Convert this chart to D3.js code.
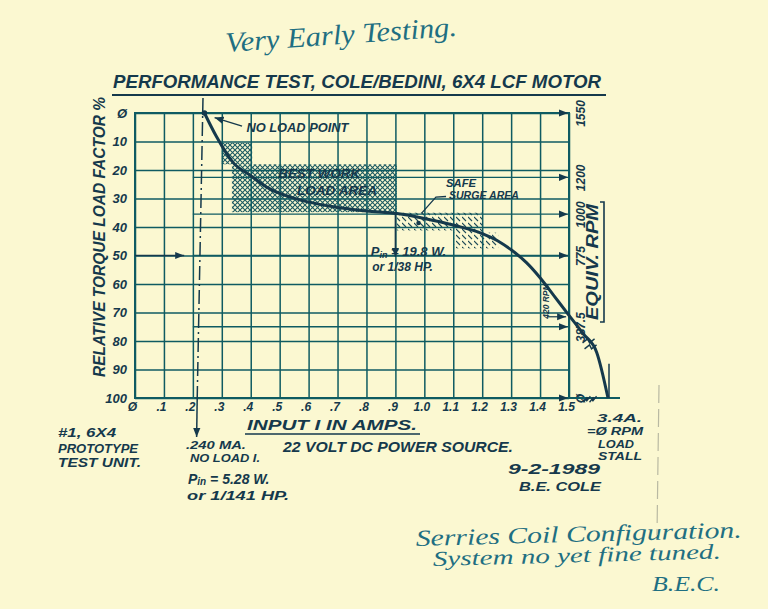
<!DOCTYPE html>
<html>
<head>
<meta charset="utf-8">
<script src="https://cdn.jsdelivr.net/npm/d3@7"></script>
<style>
  html, body { margin: 0; padding: 0; background: #fbf8d1; }
  svg { display: block; }
  text { font-family: "Liberation Sans", Arial, sans-serif; font-style: italic; font-weight: bold; fill: #15394c; }
  text.hand { font-family: "Liberation Serif", serif; font-weight: normal; fill: #1f6f82; }
</style>
</head>
<body>
<svg id="chart" width="768" height="609"></svg>
<script>
// axes
var ampTicks = [0, .1, .2, .3, .4, .5, .6, .7, .8, .9, 1.0, 1.1, 1.2, 1.3, 1.4, 1.5]
var ampLabels = ['Ø', '.1', '.2', '.3', '.4', '.5', '.6', '.7', '.8', '.9', '1.0', '1.1', '1.2', '1.3', '1.4', '1.5']
var loadTicks = [0, 10, 20, 30, 40, 50, 60, 70, 80, 90, 100]
var loadLabels = ['Ø', '10', '20', '30', '40', '50', '60', '70', '80', '90', '100']
var rpmTicks = [1550, 1200, 1000, 775, 387.5, 0]
var rpmLabels = ['1550', '1200', '1000', '775', '387.5', 'Ø']

// motor curve (amps, load %)
var curveAmps = [0.24, 0.28, 0.34, 0.40, 0.455, 0.57, 0.685, 0.80, 0.905, 1.0, 1.1, 1.2, 1.253, 1.3, 1.353, 1.4, 1.447, 1.5]
var curveLoad = [0, 8, 17.5, 22, 26, 30.5, 32.9, 34.4, 35.3, 37, 39.3, 42.3, 44.8, 48, 52.5, 57.8, 64, 71]
// past the axis break, out to stall at 3.4 A
var tailAmps = [1.5, 2.2, 2.85, 3.4]
var tailLoad = [71, 77.5, 84, 100]

// shaded areas: [from, to] amps and [from, to] load
var bestAmps = [[0.30, 0.405], [0.335, 0.905]]
var bestLoad = [[10.5, 18], [18, 34.8]]
var surgeAmps = [[0.905, 1.10], [1.10, 1.20], [1.20, 1.255]]
var surgeLoad = [[35, 41.2], [35, 47.5], [42, 47.5]]

var noLoadAmps = 0.24
var pinAmps = 0.9
var stallAmps = 3.4

var ink = '#15394c'
var gridColor = '#0f5b62'

var svg = d3.select('#chart')
var defs = svg.append('defs')

defs.append('marker')
    .attr('id', 'arrow')
    .attr('viewBox', '-10 -5 10 10')
    .attr('markerWidth', 9)
    .attr('markerHeight', 9)
    .attr('markerUnits', 'userSpaceOnUse')
    .attr('orient', 'auto')
  .append('path')
    .attr('d', 'M-10,-4 L0,0 L-10,4 Z')
    .attr('fill', ink)

var cross = defs.append('pattern')
    .attr('id', 'cross').attr('patternUnits', 'userSpaceOnUse')
    .attr('width', 5).attr('height', 5)
cross.append('path').attr('d', 'M0,0 L5,5 M5,0 L0,5')
    .attr('stroke', '#1d5a62').attr('stroke-width', 1.1)

var hatch = defs.append('pattern')
    .attr('id', 'hatch').attr('patternUnits', 'userSpaceOnUse')
    .attr('width', 6).attr('height', 6)
hatch.append('path').attr('d', 'M0,1 L4,5')
    .attr('stroke', '#1d4a58').attr('stroke-width', 1.1)

var x = d3.scaleLinear().domain([0, 1.5]).range([135, 569])
var xTail = d3.scaleLinear().domain([1.5, 3.4]).range([569, 608])
var y = d3.scaleLinear().domain([0, 100]).range([113, 398])
var rpm = d3.scaleLinear().domain([1550, 0]).range([113, 398])

// handwritten notes
svg.append('text').attr('class', 'hand')
  .attr('transform', 'translate(226,52) rotate(-4)')
  .attr('font-size', 28).attr('textLength', 232).attr('lengthAdjust', 'spacingAndGlyphs')
  .text('Very Early Testing.')

// title
svg.append('text')
  .attr('x', 113).attr('y', 88)
  .attr('font-size', 19).attr('textLength', 488).attr('lengthAdjust', 'spacingAndGlyphs')
  .text('PERFORMANCE TEST, COLE/BEDINI, 6X4 LCF MOTOR')
svg.append('line')
  .attr('x1', 112).attr('x2', 606).attr('y1', 95).attr('y2', 95)
  .attr('stroke', ink).attr('stroke-width', 2.2)

// shaded areas
svg.append('g').selectAll('rect')
  .data(bestAmps)
  .join('rect')
  .attr('x', d => x(d[0]))
  .attr('width', d => x(d[1]) - x(d[0]))
  .attr('y', (d, i) => y(bestLoad[i][0]))
  .attr('height', (d, i) => y(bestLoad[i][1]) - y(bestLoad[i][0]))
  .attr('fill', 'url(#cross)')

svg.append('g').selectAll('rect')
  .data(surgeAmps)
  .join('rect')
  .attr('x', d => x(d[0]))
  .attr('width', d => x(d[1]) - x(d[0]))
  .attr('y', (d, i) => y(surgeLoad[i][0]))
  .attr('height', (d, i) => y(surgeLoad[i][1]) - y(surgeLoad[i][0]))
  .attr('fill', 'url(#hatch)')

// grid
var gridH = y(100) - y(0)
var gridW = x(1.5) - x(0)
var gx = svg.append('g')
  .attr('transform', `translate(0,${y(100)})`)
  .call(d3.axisBottom(x).tickValues(ampTicks).tickSize(-gridH).tickFormat(''))
var gy = svg.append('g')
  .attr('transform', `translate(${x(0)},0)`)
  .call(d3.axisLeft(y).tickValues(loadTicks).tickSize(-gridW).tickFormat(''))
;[gx, gy].forEach(g => {
  g.select('.domain').remove()
  g.selectAll('line').attr('stroke', gridColor).attr('stroke-width', 1.5)
})
svg.append('rect')
  .attr('x', x(0)).attr('y', y(0)).attr('width', gridW).attr('height', gridH)
  .attr('fill', 'none').attr('stroke', gridColor).attr('stroke-width', 2)

// tick labels
var ly = svg.append('g')
  .attr('transform', `translate(${x(0) - 2},0)`)
  .call(d3.axisLeft(y).tickValues(loadTicks).tickSize(0).tickPadding(6)
    .tickFormat((d, i) => loadLabels[i]))
var lx = svg.append('g')
  .attr('transform', `translate(-3,${y(100) + 1})`)
  .call(d3.axisBottom(x).tickValues(ampTicks).tickSize(0).tickPadding(3)
    .tickFormat((d, i) => ampLabels[i]))
var lr = svg.append('g')
  .attr('transform', `translate(${x(1.5)},0)`)
  .call(d3.axisRight(rpm).tickValues(rpmTicks).tickSize(0)
    .tickFormat((d, i) => rpmLabels[i]))
lr.selectAll('text')
  .attr('x', null).attr('dy', null)
  .attr('text-anchor', 'middle')
  .attr('transform', 'translate(16,0) rotate(-90)')
;[ly, lx, lr].forEach(g => {
  g.select('.domain').remove()
  g.selectAll('text').attr('fill', ink).attr('font-size', 13)
    .attr('font-family', '"Liberation Sans", Arial, sans-serif')
})
lx.selectAll('text').attr('font-size', 12)
lr.selectAll('text').attr('font-size', 12)

// rpm reference lines with arrows onto the right axis
svg.append('g').selectAll('line')
  .data(rpmTicks)
  .join('line')
  .attr('x1', x(0.2)).attr('x2', x(1.5) - 1)
  .attr('y1', d => rpm(d)).attr('y2', d => rpm(d))
  .attr('stroke', gridColor).attr('stroke-width', 1.3)
  .attr('marker-end', 'url(#arrow)')

// 50% pointer from the left axis
svg.append('line')
  .attr('x1', x(0)).attr('x2', x(0.17))
  .attr('y1', y(50)).attr('y2', y(50))
  .attr('stroke', ink).attr('stroke-width', 1.5)
  .attr('marker-end', 'url(#arrow)')

// axis carried past the break to stall
svg.append('line')
  .attr('x1', x(1.5)).attr('x2', xTail(stallAmps) + 12)
  .attr('y1', y(100)).attr('y2', y(100))
  .attr('stroke', gridColor).attr('stroke-width', 2)
svg.append('line')
  .attr('x1', xTail(stallAmps) + 1).attr('x2', xTail(stallAmps) + 1)
  .attr('y1', y(88)).attr('y2', y(100))
  .attr('stroke', ink).attr('stroke-width', 1.5)
svg.append('path')
  .attr('d', `M${xTail(2.2)},${y(101.5)} l4,-5 l-1,4 l4,-5 M${xTail(2.5)},${y(101.5)} l4,-5 l-1,4 l4,-5`)
  .attr('fill', 'none').attr('stroke', ink).attr('stroke-width', 1.3)

// no load current line
svg.append('path')
  .attr('d', `M${x(0.235)},98 L${x(0.215)},${y(100)}`)
  .attr('stroke', ink).attr('stroke-width', 1.5)
  .attr('stroke-dasharray', '14,4,2,4')
svg.append('line')
  .attr('x1', x(0.215)).attr('x2', x(0.213))
  .attr('y1', y(100)).attr('y2', 437)
  .attr('stroke', ink).attr('stroke-width', 1.5)
  .attr('marker-end', 'url(#arrow)')

// the curve
var pts = curveAmps.map((a, i) => [x(a), y(curveLoad[i])])
  .concat(tailAmps.slice(1).map((a, i) => [xTail(a), y(tailLoad[i + 1])]))
svg.append('path')
  .datum(pts)
  .attr('d', d3.line().curve(d3.curveMonotoneX))
  .attr('fill', 'none').attr('stroke', ink).attr('stroke-width', 3)

// break marks on the curve
var bx = xTail(2.55), by = y(81)
svg.append('path')
  .attr('d', `M${bx - 8},${by - 1} l5,-4 l2,4 l5,-4 M${bx - 6},${by + 5} l5,-4 l2,4 l5,-4`)
  .attr('fill', 'none').attr('stroke', ink).attr('stroke-width', 1.4)

// points
svg.append('circle').attr('cx', x(noLoadAmps)).attr('cy', y(0)).attr('r', 2.8).attr('fill', ink)
svg.append('circle').attr('cx', x(0.98)).attr('cy', y(38.6)).attr('r', 2.3).attr('fill', ink)

// annotations inside the grid
svg.append('line')
  .attr('x1', x(0.37)).attr('y1', y(4.6))
  .attr('x2', x(0.275)).attr('y2', y(1.6))
  .attr('stroke', ink).attr('stroke-width', 1.4)
  .attr('marker-end', 'url(#arrow)')
svg.append('text')
  .attr('x', x(0.385)).attr('y', y(6.5))
  .attr('font-size', 12).attr('textLength', 102).attr('lengthAdjust', 'spacingAndGlyphs')
  .text('NO LOAD POINT')

svg.append('text')
  .attr('x', x(0.495)).attr('y', y(22.8))
  .attr('font-size', 12).attr('textLength', 82).attr('lengthAdjust', 'spacingAndGlyphs')
  .text('BEST WORK')
svg.append('text')
  .attr('x', x(0.56)).attr('y', y(28.8))
  .attr('font-size', 12).attr('textLength', 80).attr('lengthAdjust', 'spacingAndGlyphs')
  .text('LOAD AREA')

svg.append('text')
  .attr('x', x(1.075)).attr('y', y(25.8))
  .attr('font-size', 10).attr('textLength', 30).attr('lengthAdjust', 'spacingAndGlyphs')
  .text('SAFE')
svg.append('text')
  .attr('x', x(1.085)).attr('y', y(30.2))
  .attr('font-size', 10).attr('textLength', 70).attr('lengthAdjust', 'spacingAndGlyphs')
  .text('SURGE AREA')
svg.append('path')
  .attr('d', `M${x(0.99)},${y(35.2)} L${x(1.04)},${y(29.5)} L${x(1.075)},${y(29.3)}`)
  .attr('fill', 'none').attr('stroke', ink).attr('stroke-width', 1.3)

svg.append('line')
  .attr('x1', x(pinAmps)).attr('x2', x(pinAmps))
  .attr('y1', y(35)).attr('y2', y(50.5))
  .attr('stroke', ink).attr('stroke-width', 1.5)
  .attr('marker-end', 'url(#arrow)')
var pin = svg.append('text')
  .attr('x', x(0.815)).attr('y', y(50.3))
  .attr('font-size', 13)
pin.append('tspan').text('P')
pin.append('tspan').attr('font-size', 9).attr('dy', 2).text('in')
pin.append('tspan').attr('dy', -2).text(' = 19.8 W.')
svg.append('text')
  .attr('x', x(0.82)).attr('y', y(55.5))
  .attr('font-size', 12).text('or 1/38 HP.')

// 420 rpm point at 1.5 A
svg.append('text')
  .attr('transform', `translate(${x(1.43)},${y(66)}) rotate(-90)`)
  .attr('text-anchor', 'middle').attr('font-size', 8.5)
  .text('420 RPM')
svg.append('line')
  .attr('x1', x(1.425)).attr('x2', x(1.49))
  .attr('y1', y(71.5)).attr('y2', y(71.5))
  .attr('stroke', ink).attr('stroke-width', 1.2)
  .attr('marker-end', 'url(#arrow)')

// right axis title
svg.append('text')
  .attr('transform', 'translate(598,262) rotate(-90)')
  .attr('text-anchor', 'middle').attr('font-size', 16)
  .attr('textLength', 116).attr('lengthAdjust', 'spacingAndGlyphs')
  .text('EQUIV. RPM')
svg.append('path')
  .attr('d', 'M600,202 L604,202 L604,322 L600,322')
  .attr('fill', 'none').attr('stroke', ink).attr('stroke-width', 1.6)

// left axis title
svg.append('text')
  .attr('transform', 'translate(105,237) rotate(-90)')
  .attr('text-anchor', 'middle').attr('font-size', 17)
  .attr('textLength', 280).attr('lengthAdjust', 'spacingAndGlyphs')
  .text('RELATIVE TORQUE LOAD FACTOR %')

// texts below the chart
function note(tx, ty, size, str, len) {
  var t = svg.append('text').attr('x', tx).attr('y', ty).attr('font-size', size).text(str)
  if (len) t.attr('textLength', len).attr('lengthAdjust', 'spacingAndGlyphs')
  return t
}

note(247, 430, 14, 'INPUT I IN AMPS.', 170)
svg.append('line').attr('x1', 245).attr('x2', 420).attr('y1', 434).attr('y2', 434)
  .attr('stroke', ink).attr('stroke-width', 1.6)
note(283, 452, 14.5, '22 VOLT DC POWER SOURCE.', 230)

note(58, 437, 13, '#1, 6X4', 58)
note(58, 453, 13, 'PROTOTYPE', 80)
note(58, 467, 13, 'TEST UNIT.', 83)

note(186, 449, 11.5, '.240 MA.', 60)
note(190, 462, 11.5, 'NO LOAD I.', 70)
var p2 = svg.append('text').attr('x', 188).attr('y', 484).attr('font-size', 14)
p2.append('tspan').text('P')
p2.append('tspan').attr('font-size', 10).attr('dy', 1).text('in')
p2.append('tspan').attr('dy', -1).text(' = 5.28 W.')
note(187, 500, 13, 'or 1/141 HP.', 102)

note(508, 474, 14, '9-2-1989', 92)
note(519, 491, 13, 'B.E. COLE', 82)

note(597, 422, 11, '3.4A.', 45)
note(587, 435, 11, '=Ø RPM', 56)
note(598, 447.5, 11, 'LOAD', 36)
note(598, 460, 11, 'STALL', 44)

svg.append('text').attr('class', 'hand')
  .attr('transform', 'translate(416,546) rotate(-1.5)')
  .attr('font-size', 23).attr('textLength', 326).attr('lengthAdjust', 'spacingAndGlyphs')
  .text('Serries Coil Configuration.')
svg.append('text').attr('class', 'hand')
  .attr('transform', 'translate(433,566) rotate(-1.5)')
  .attr('font-size', 21).attr('textLength', 288).attr('lengthAdjust', 'spacingAndGlyphs')
  .text('System no yet fine tuned.')
svg.append('text').attr('class', 'hand')
  .attr('x', 652).attr('y', 591)
  .attr('font-size', 20).attr('textLength', 68).attr('lengthAdjust', 'spacingAndGlyphs')
  .text('B.E.C.')

// faint paper crease on the right
svg.append('line')
  .attr('x1', 659).attr('x2', 657).attr('y1', 385).attr('y2', 535)
  .attr('stroke', '#b9b9a2').attr('stroke-width', 1.2).attr('stroke-dasharray', '18,6')
</script>
</body>
</html>
